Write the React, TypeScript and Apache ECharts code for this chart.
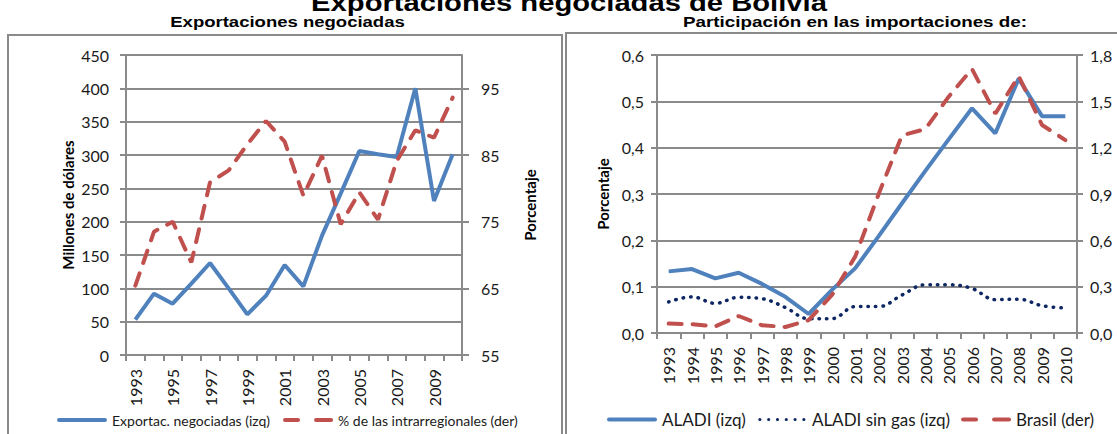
import React, { useEffect, useRef } from "react";
import * as echarts from "echarts";

// ---- data ----
const years = [
  "1993", "1994", "1995", "1996", "1997", "1998", "1999", "2000", "2001",
  "2002", "2003", "2004", "2005", "2006", "2007", "2008", "2009", "2010",
];
const exportacNegociadas = [53, 92, 77, 107, 138, 100, 61, 89, 135, 103, 179, 242, 306, 301, 297, 400, 231, 301];
const intrarregionales = [65.4, 73.5, 75, 68.9, 80.9, 82.7, 86.6, 90.1, 87, 78.9, 84.9, 74.6, 79.4, 75.3, 84.1, 88.7, 87.6, 93.6];
const aladi = [0.133, 0.138, 0.118, 0.13, 0.106, 0.078, 0.041, 0.093, 0.14, 0.209, 0.28, 0.35, 0.418, 0.485, 0.431, 0.549, 0.468, 0.468];
const aladiSinGas = [0.067, 0.078, 0.064, 0.077, 0.074, 0.055, 0.031, 0.031, 0.057, 0.057, 0.082, 0.104, 0.104, 0.096, 0.072, 0.073, 0.059, 0.054];
const brasil = [0.061, 0.057, 0.043, 0.11, 0.05, 0.039, 0.083, 0.246, 0.496, 0.9, 1.28, 1.32, 1.53, 1.71, 1.42, 1.664, 1.347, 1.249];

const leftRightAxisTicks = [55, 65, 75, 85, 95];

const mainTitle = "Exportaciones negociadas de Bolivia";
const leftTitle = "Exportaciones negociadas";
const rightTitle = "Participación en las importaciones de:";
const leftNames = ["Exportac. negociadas (izq)", "% de las intrarregionales (der)"];
const rightNames = ["ALADI (izq)", "ALADI sin gas (izq)", "Brasil (der)"];

const BLUE = "#4F81BD";
const RED = "#C0504D";
const NAVY = "#0E2763";
const GRAY = "#8a8a8a";
const LABEL_FONT = "Lato";
const TITLE_FONT = '"Liberation Sans", Arial, sans-serif';

// legend icons (50 x 4 box)
const ICON_SOLID = "path://M2,0 H48 A2,2 0 0 1 48,4 H2 A2,2 0 0 1 2,0 Z";
const ICON_DASH =
  "path://M2,0 H15 A2,2 0 0 1 15,4 H2 A2,2 0 0 1 2,0 Z M33,0 H48 A2,2 0 0 1 48,4 H33 A2,2 0 0 1 33,0 Z";
const dot = (cx: number) => `M${cx - 1.6},2 A1.6,1.6 0 1 0 ${cx + 1.6},2 A1.6,1.6 0 1 0 ${cx - 1.6},2 Z`;
const ICON_DOTS = "path://M0,0 M50,4 " + [3, 11.8, 20.6, 29.4, 38.2, 47].map(dot).join(" ");

const comma = (v: number) => v.toFixed(1).replace(".", ",");

export default function App() {
  const ref = useRef<HTMLDivElement>(null);

  useEffect(() => {
    if (!ref.current) return;
    const chart = echarts.init(ref.current, undefined, { renderer: "svg" });

    const axisLabel = { fontFamily: LABEL_FONT, fontSize: 16, color: "#1a1a1a" };
    const nameStyle = { fontFamily: LABEL_FONT, fontSize: 15, fontWeight: "bold" as const, color: "#000" };
    const lineAxis = { show: true, lineStyle: { color: GRAY, width: 2 } };
    const tick = (len: number) => ({ show: true, length: len, lineStyle: { color: GRAY, width: 2 } });

    const titleText = (text: string, x: number, y: number, size: number, sx: number) => ({
      type: "text",
      x,
      y,
      scaleX: sx,
      style: {
        text,
        font: `bold ${size}px ${TITLE_FONT}`,
        fill: "#000",
        textAlign: "center",
        align: "center",
        textVerticalAlign: "middle",
        verticalAlign: "middle",
      },
    });

    chart.setOption({
      animation: false,
      backgroundColor: "#fff",
      graphic: [
        { type: "rect", shape: { x: 8, y: 35, width: 554, height: 420 }, style: { fill: "none", stroke: GRAY, lineWidth: 2 } },
        { type: "rect", shape: { x: 566, y: 33, width: 600, height: 420 }, style: { fill: "none", stroke: GRAY, lineWidth: 2 } },
        titleText(mainTitle, 569, 3, 23, 1.27),
        titleText(leftTitle, 287.5, 21.6, 15.5, 1.195),
        titleText(rightTitle, 855, 21.6, 15.5, 1.215),
      ],
      legend: [
        {
          data: [
            { name: leftNames[0], icon: ICON_SOLID },
            { name: leftNames[1], icon: ICON_DASH },
          ],
          left: 52,
          top: 408,
          itemWidth: 50,
          itemHeight: 4,
          itemGap: 13,
          textStyle: { fontFamily: LABEL_FONT, fontSize: 14, color: "#1a1a1a" },
        },
        {
          data: [
            { name: rightNames[0], icon: ICON_SOLID },
            { name: rightNames[1], icon: ICON_DOTS },
            { name: rightNames[2], icon: ICON_DASH },
          ],
          left: 602,
          top: 406,
          itemWidth: 50,
          itemHeight: 4,
          itemGap: 11,
          textStyle: { fontFamily: LABEL_FONT, fontSize: 17, color: "#1a1a1a" },
        },
      ],
      grid: [
        { left: 126, right: 655, top: 55, bottom: 79 },
        { left: 657, right: 40, top: 55, bottom: 101 },
      ],
      xAxis: [
        {
          gridIndex: 0,
          type: "category",
          data: years,
          boundaryGap: true,
          axisLine: lineAxis,
          axisTick: { ...tick(6), interval: 0 },
          axisLabel: { ...axisLabel, interval: 1, rotate: 90, margin: 14 },
        },
        {
          gridIndex: 1,
          type: "category",
          data: years,
          boundaryGap: true,
          axisLine: lineAxis,
          axisTick: { ...tick(6), interval: 0 },
          axisLabel: { ...axisLabel, interval: 0, rotate: 90, margin: 14 },
        },
      ],
      yAxis: [
        {
          gridIndex: 0,
          type: "value",
          position: "left",
          min: 0,
          max: 450,
          interval: 50,
          axisLine: lineAxis,
          axisTick: tick(6),
          axisLabel: { ...axisLabel, margin: 17 },
          splitLine: { show: true, lineStyle: { color: GRAY, width: 2 } },
          name: "Millones de dólares",
          nameLocation: "middle",
          nameRotate: 90,
          nameGap: 51,
          nameTextStyle: nameStyle,
        },
        {
          gridIndex: 0,
          type: "value",
          position: "right",
          min: 55,
          max: 100,
          axisLine: lineAxis,
          axisTick: { ...tick(7), customValues: leftRightAxisTicks },
          axisLabel: { ...axisLabel, margin: 19, customValues: leftRightAxisTicks },
          splitLine: { show: false },
          name: "Porcentaje",
          nameLocation: "middle",
          nameRotate: 90,
          nameGap: 60,
          nameTextStyle: nameStyle,
        },
        {
          gridIndex: 1,
          type: "value",
          position: "left",
          min: 0,
          max: 0.6,
          interval: 0.1,
          axisLine: lineAxis,
          axisTick: tick(6),
          axisLabel: { ...axisLabel, margin: 13, formatter: comma },
          splitLine: { show: true, lineStyle: { color: GRAY, width: 2 } },
          name: "Porcentaje",
          nameLocation: "middle",
          nameRotate: 90,
          nameGap: 47,
          nameTextStyle: nameStyle,
        },
        {
          gridIndex: 1,
          type: "value",
          position: "right",
          min: 0,
          max: 1.8,
          interval: 0.3,
          axisLine: lineAxis,
          axisTick: tick(6),
          axisLabel: { ...axisLabel, margin: 13, formatter: comma },
          splitLine: { show: false },
        },
      ],
      series: [
        {
          name: leftNames[0],
          type: "line",
          xAxisIndex: 0,
          yAxisIndex: 0,
          data: exportacNegociadas,
          symbol: "none",
          itemStyle: { color: BLUE },
          lineStyle: { color: BLUE, width: 4 },
        },
        {
          name: leftNames[1],
          type: "line",
          xAxisIndex: 0,
          yAxisIndex: 1,
          data: intrarregionales,
          symbol: "none",
          itemStyle: { color: RED },
          lineStyle: { color: RED, width: 4, type: [13, 11], cap: "round" },
        },
        {
          name: rightNames[0],
          type: "line",
          xAxisIndex: 1,
          yAxisIndex: 2,
          data: aladi,
          symbol: "none",
          itemStyle: { color: BLUE },
          lineStyle: { color: BLUE, width: 4 },
        },
        {
          name: rightNames[1],
          type: "line",
          xAxisIndex: 1,
          yAxisIndex: 2,
          data: aladiSinGas,
          symbol: "none",
          smooth: 0.4,
          itemStyle: { color: NAVY },
          lineStyle: { color: NAVY, width: 3.5, type: [0.5, 7], cap: "round" },
        },
        {
          name: rightNames[2],
          type: "line",
          xAxisIndex: 1,
          yAxisIndex: 3,
          data: brasil,
          symbol: "none",
          itemStyle: { color: RED },
          lineStyle: { color: RED, width: 4, type: [13, 11], cap: "round" },
        },
      ],
    });

    return () => chart.dispose();
  }, []);

  return (
    <div
      ref={ref}
      style={{ position: "absolute", left: 0, top: 0, width: 1117, height: 434, background: "#fff" }}
    />
  );
}
